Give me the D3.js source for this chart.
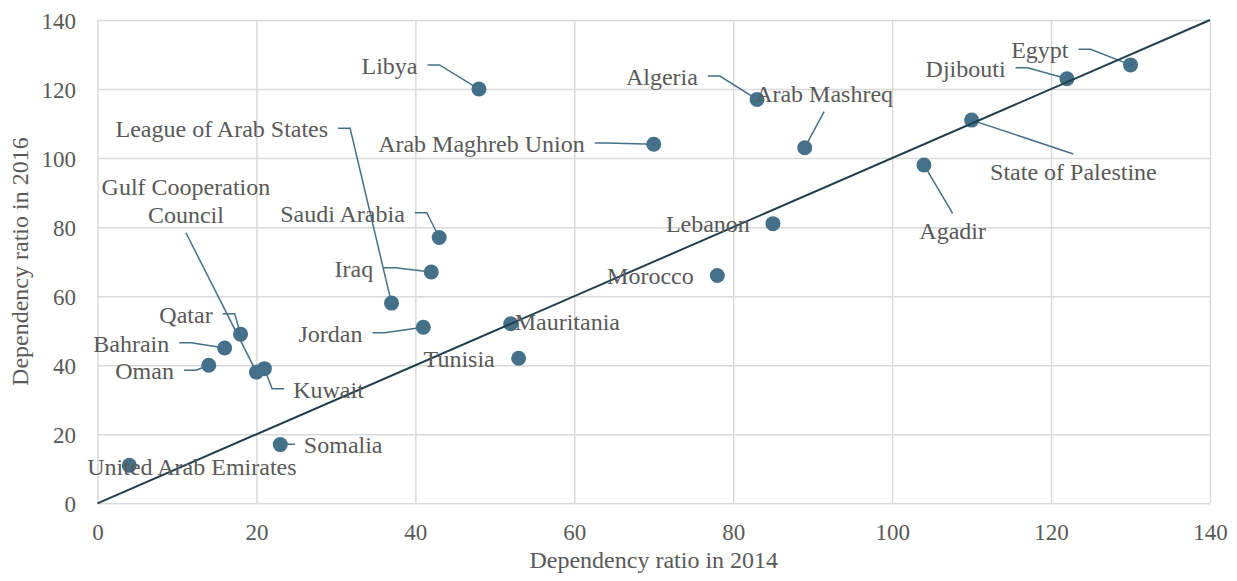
<!DOCTYPE html>
<html>
<head>
<meta charset="utf-8">
<script src="https://cdn.jsdelivr.net/npm/d3@7"></script>
<style>
  body { margin: 0; background: #fff; }
  svg { display: block; }
  text { font-family: "Times New Roman", "Liberation Serif", serif; fill: #595959; }
  .grid line { stroke: #d9d9d9; stroke-width: 1.5; }
  .grid .domain { display: none; }
  .leader { fill: none; stroke: #44708a; stroke-width: 1.5; }
</style>
</head>
<body>
<div id="main"></div>
<script>
// data
var countries = ["United Arab Emirates", "Somalia", "Oman", "Bahrain", "Qatar",
	"Gulf Cooperation Council", "Kuwait", "League of Arab States", "Jordan", "Iraq",
	"Saudi Arabia", "Libya", "Mauritania", "Tunisia", "Arab Maghreb Union", "Morocco",
	"Algeria", "Lebanon", "Arab Mashreq", "Agadir", "State of Palestine", "Djibouti", "Egypt"]
var ratio2014 = [4, 23, 14, 16, 18, 20, 21, 37, 41, 42, 43, 48, 52, 53, 70, 78, 83, 85, 89, 104, 110, 122, 130]
var ratio2016 = [11, 17, 40, 45, 49, 38, 39, 58, 51, 67, 77, 120, 52, 42, 104, 66, 117, 81, 103, 98, 111, 123, 127]
var xTicks = [0, 20, 40, 60, 80, 100, 120, 140]
var yTicks = [0, 20, 40, 60, 80, 100, 120, 140]

// label placement (pixel offsets from the marker), same order as countries
var labelLayout = [
	{ dx: -42, dy: 9.7, anchor: "start", leader: "none" },
	{ dx: 23.6, dy: 8.7, anchor: "start", leader: "left" },
	{ dx: -34.8, dy: 14.1, anchor: "end", leader: "right" },
	{ dx: -55.4, dy: 3.7, anchor: "end", leader: "right" },
	{ dx: -27.9, dy: -11.5, anchor: "end", leader: "right" },
	{ dx: -70.5, dy: -177.1, anchor: "middle", leader: "bottom", lines: ["Gulf Cooperation", "Council"] },
	{ dx: 28.8, dy: 29, anchor: "start", leader: "left" },
	{ dx: -63.4, dy: -165.8, anchor: "end", leader: "right" },
	{ dx: -60.8, dy: 14.5, anchor: "end", leader: "right" },
	{ dx: -58.1, dy: 4.7, anchor: "end", leader: "right" },
	{ dx: -34.4, dy: -15.8, anchor: "end", leader: "right" },
	{ dx: -61.4, dy: -15.1, anchor: "end", leader: "right" },
	{ dx: 4, dy: 6.2, anchor: "start", leader: "none" },
	{ dx: -23.9, dy: 9, anchor: "end", leader: "none" },
	{ dx: -69, dy: 7.7, anchor: "end", leader: "right" },
	{ dx: -23.6, dy: 8.5, anchor: "end", leader: "none" },
	{ dx: -59.2, dy: -14.4, anchor: "end", leader: "right" },
	{ dx: -23.1, dy: 8, anchor: "end", leader: "none" },
	{ dx: 19.4, dy: -46, anchor: "middle", leader: "bottom" },
	{ dx: 28.7, dy: 74.3, anchor: "middle", leader: "top" },
	{ dx: 101.8, dy: 59.9, anchor: "middle", leader: "top" },
	{ dx: -61.4, dy: -2, anchor: "end", leader: "right" },
	{ dx: -62, dy: -6.6, anchor: "end", leader: "right" }
]

var W = 1237, H = 581
var margin = { top: 20, left: 97.5, right: 27, bottom: 77.7 }
var lineH = 27.7

var svg = d3.select("#main")
	.append("svg")
	.attr("width", W)
	.attr("height", H)

var x = d3.scaleLinear().domain([0, 140]).range([margin.left, W - margin.right])
var y = d3.scaleLinear().domain([0, 140]).range([H - margin.bottom, margin.top])

// gridlines
svg.append("g")
	.attr("class", "grid")
	.attr("transform", "translate(0," + y(0) + ")")
	.call(d3.axisBottom(x).tickValues(xTicks).tickSize(-(y(0) - y(140))).tickFormat(""))
svg.append("g")
	.attr("class", "grid")
	.attr("transform", "translate(" + x(0) + ",0)")
	.call(d3.axisLeft(y).tickValues(yTicks).tickSize(-(x(140) - x(0))).tickFormat(""))

// tick labels
var xAxis = svg.append("g")
	.attr("transform", "translate(0," + y(0) + ")")
	.call(d3.axisBottom(x).tickValues(xTicks).tickSize(0))
xAxis.select(".domain").remove()
xAxis.selectAll("text")
	.attr("y", 36.7)
	.attr("dy", null)
	.style("font-size", "23px")
	.attr("fill", "#595959")

var yAxis = svg.append("g")
	.attr("transform", "translate(" + x(0) + ",0)")
	.call(d3.axisLeft(y).tickValues(yTicks).tickSize(0))
yAxis.select(".domain").remove()
yAxis.selectAll("text")
	.attr("x", -21.5)
	.attr("dy", "0.36em")
	.style("font-size", "23px")
	.attr("fill", "#595959")

// axis titles
svg.append("text")
	.attr("x", (x(0) + x(140)) / 2)
	.attr("y", 568)
	.attr("text-anchor", "middle")
	.style("font-size", "24px")
	.text("Dependency ratio in 2014")
svg.append("text")
	.attr("transform", "translate(28," + ((y(0) + y(140)) / 2) + ") rotate(-90)")
	.attr("text-anchor", "middle")
	.style("font-size", "24px")
	.text("Dependency ratio in 2016")

var points = countries.map(function(name, i) {
	return { name: name, px: x(ratio2014[i]), py: y(ratio2016[i]), lay: labelLayout[i] }
})

// leader lines
function leaderPath(d) {
	var L = d.lay
	var lx = d.px + L.dx, ly = d.py + L.dy
	var pts
	if (L.leader === "right") {
		pts = [[lx + 10, ly - 9], [lx + 22, ly - 9], [d.px, d.py]]
	} else if (L.leader === "left") {
		pts = [[lx - 9, ly - 9], [lx - 21, ly - 9], [d.px, d.py]]
	} else if (L.leader === "bottom") {
		var n = L.lines ? L.lines.length : 1
		pts = [[lx, ly + (n - 1) * lineH + 10], [d.px, d.py]]
	} else {
		pts = [[lx, ly - 26], [d.px, d.py]]
	}
	return d3.line()(pts)
}

svg.selectAll(".leader")
	.data(points.filter(function(d) { return d.lay.leader !== "none" }))
	.enter().append("path")
	.attr("class", "leader")
	.attr("d", leaderPath)

// markers
svg.selectAll(".dot")
	.data(points)
	.enter().append("circle")
	.attr("class", "dot")
	.attr("cx", function(d) { return d.px })
	.attr("cy", function(d) { return d.py })
	.attr("r", 7.5)
	.attr("fill", "#44708a")

// y = x reference line
svg.append("line")
	.attr("x1", x(0)).attr("y1", y(0))
	.attr("x2", x(140)).attr("y2", y(140))
	.attr("stroke", "#1f3f4f")
	.attr("stroke-width", 2)

// data labels
var labels = svg.selectAll(".lbl")
	.data(points)
	.enter().append("text")
	.attr("class", "lbl")
	.attr("x", function(d) { return d.px + d.lay.dx })
	.attr("y", function(d) { return d.py + d.lay.dy })
	.attr("text-anchor", function(d) { return d.lay.anchor })
	.style("font-size", "24px")

labels.each(function(d) {
	var t = d3.select(this)
	var lines = d.lay.lines || [d.name]
	lines.forEach(function(s, k) {
		t.append("tspan")
			.attr("x", d.px + d.lay.dx)
			.attr("dy", k === 0 ? 0 : lineH)
			.text(s)
	})
})
</script>
</body>
</html>
